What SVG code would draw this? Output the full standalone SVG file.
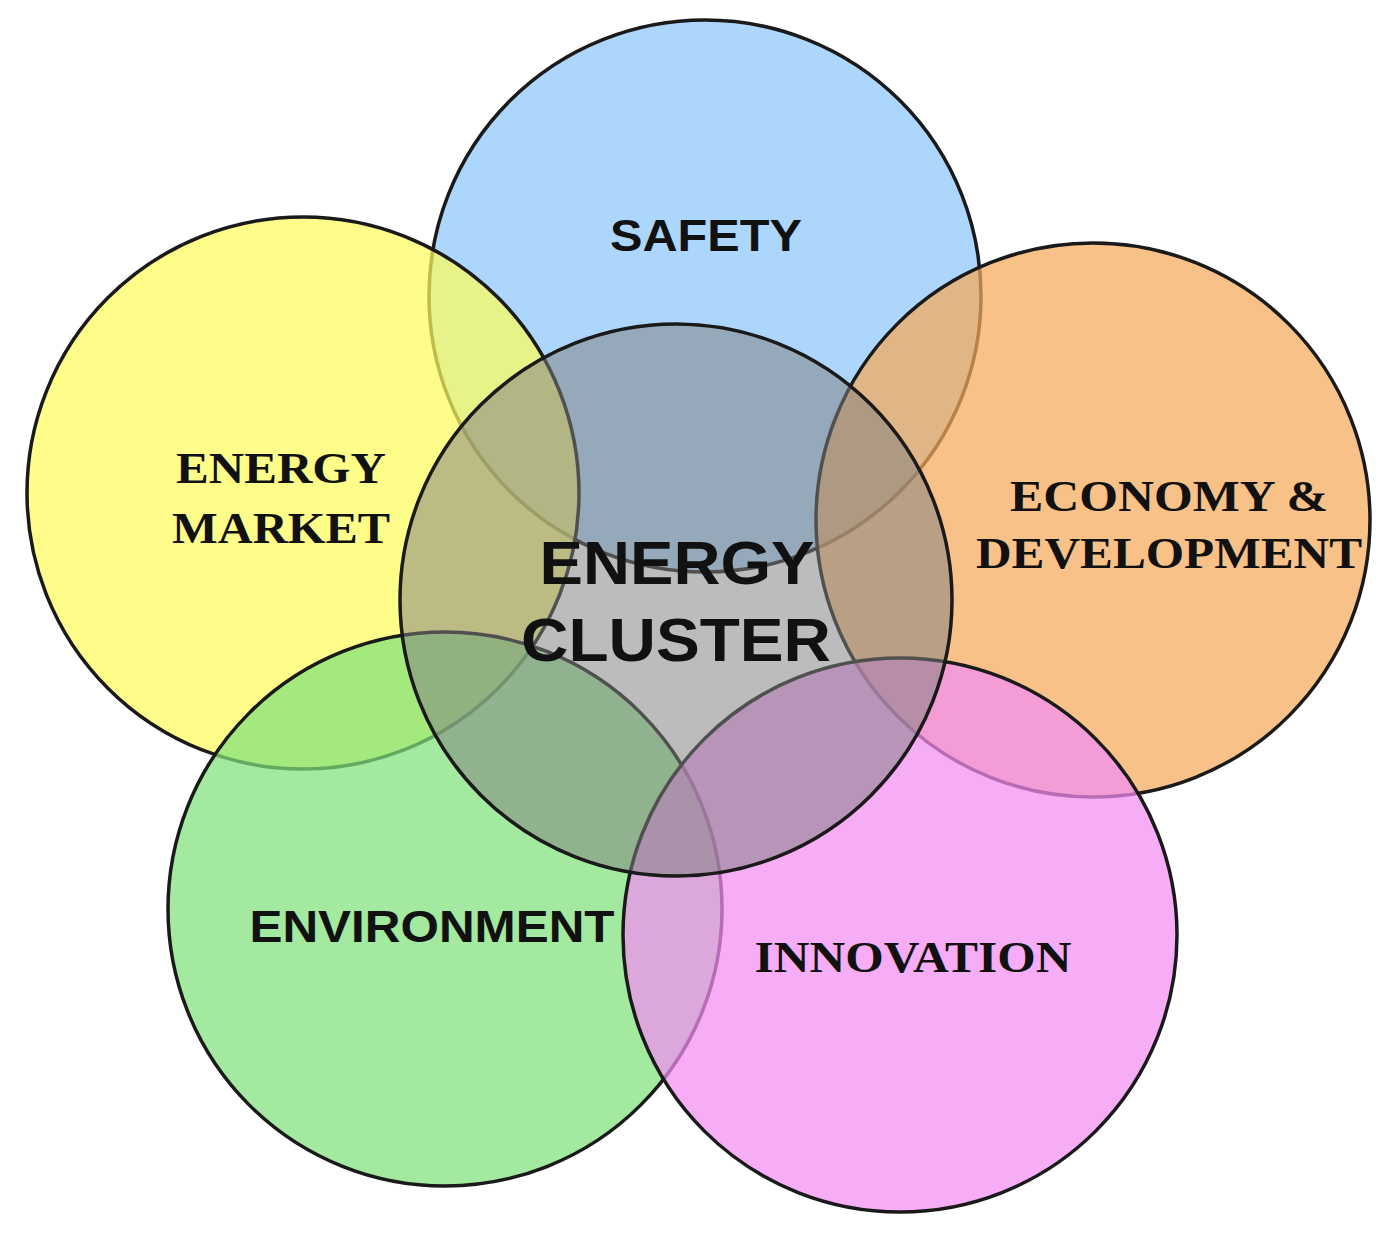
<svg xmlns="http://www.w3.org/2000/svg" width="1399" height="1238" viewBox="0 0 1399 1238">
<style>
.c{stroke:#1a1a1a;stroke-width:3.5;fill-opacity:0.72}
.s{font-family:"Liberation Sans",Arial,sans-serif;font-weight:bold;fill:#111;text-anchor:middle}
.r{font-family:"Liberation Serif","Times New Roman",serif;font-weight:bold;fill:#111;text-anchor:middle}
</style>
<rect width="1399" height="1238" fill="#fff"/>
<g id="safety"><circle class="c" cx="705" cy="296" r="276" fill="#8cc6fa"/></g>
<g id="market"><circle class="c" cx="303" cy="493" r="276" fill="#fdfc5c"/></g>
<g id="economy"><circle class="c" cx="1093" cy="520" r="277" fill="#f5a95a"/></g>
<g id="environment"><circle class="c" cx="445" cy="909" r="277" fill="#80e07a"/></g>
<g id="innovation"><circle class="c" cx="900" cy="935" r="277" fill="#f28ef2"/></g>
<g id="cluster"><circle cx="676" cy="600" r="276" fill="#808080" fill-opacity="0.53" stroke="#1a1a1a" stroke-width="3.5"/></g>
<g id="labels">
<text class="s" x="706" y="251" font-size="44" textLength="192" lengthAdjust="spacingAndGlyphs">SAFETY</text>
<text class="r" x="281" y="483" font-size="44" textLength="210" lengthAdjust="spacingAndGlyphs">ENERGY</text>
<text class="r" x="281" y="543" font-size="44" textLength="218" lengthAdjust="spacingAndGlyphs">MARKET</text>
<text class="r" x="1169" y="511" font-size="44" textLength="318" lengthAdjust="spacingAndGlyphs">ECONOMY &amp;</text>
<text class="r" x="1169" y="568" font-size="44" textLength="386" lengthAdjust="spacingAndGlyphs">DEVELOPMENT</text>
<text class="s" x="677" y="584" font-size="62" textLength="275" lengthAdjust="spacingAndGlyphs">ENERGY</text>
<text class="s" x="676" y="661" font-size="62" textLength="310" lengthAdjust="spacingAndGlyphs">CLUSTER</text>
<text class="s" x="432" y="942" font-size="44" textLength="365" lengthAdjust="spacingAndGlyphs">ENVIRONMENT</text>
<text class="r" x="913" y="972" font-size="44" textLength="317" lengthAdjust="spacingAndGlyphs">INNOVATION</text>
</g>
<g id="connectors"/>
</svg>
